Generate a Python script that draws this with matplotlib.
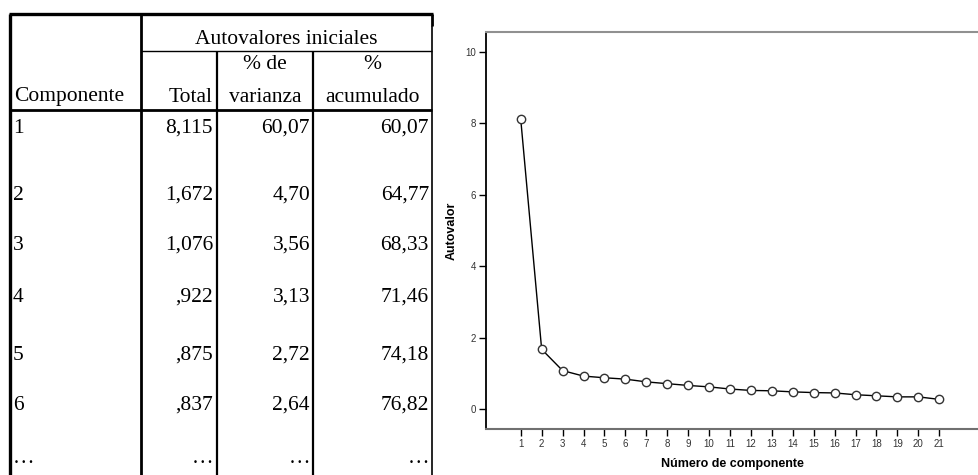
import matplotlib
matplotlib.use("Agg")
import matplotlib.pyplot as plt
from matplotlib.lines import Line2D

# Eigenvalues for every component (first six also listed in the table)
componentes = list(range(1, 22))
autovalores = [8.115, 1.672, 1.076, 0.922, 0.875, 0.837, 0.76, 0.71, 0.66,
               0.62, 0.56, 0.52, 0.51, 0.48, 0.46, 0.45, 0.40, 0.37, 0.34,
               0.34, 0.27]
pct_varianza = [60.07, 4.70, 3.56, 3.13, 2.72, 2.64]
pct_acumulado = [60.07, 64.77, 68.33, 71.46, 74.18, 76.82]
filas_tabla = 6

y_ticks = [0, 2, 4, 6, 8, 10]


def fmt_total(v):
    s = f"{v:.3f}".replace(".", ",")
    return s[1:] if s.startswith("0") else s


def fmt_pct(v):
    return f"{v:.2f}".replace(".", ",")


W, H = 979, 475
fig = plt.figure(figsize=(W / 100, H / 100), dpi=100)

# ---------------- table (pixel-space overlay) ----------------
tab = fig.add_axes([0, 0, 1, 1])
tab.set_xlim(0, W)
tab.set_ylim(H, 0)
tab.axis("off")

serif = "Liberation Serif"
fs = 15.5


def seg(x0, y0, x1, y1, lw):
    tab.add_line(Line2D([x0, x1], [y0, y1], color="black", lw=lw,
                        solid_capstyle="butt"))


def txt(x, y, s, ha):
    tab.text(x, y, s, family=serif, fontsize=fs, ha=ha, va="baseline")


x_left, x_c1, x_c2, x_c3, x_right = 10, 141.5, 217, 313.5, 432
y_top, y_sub, y_head, y_bot = 14, 51, 110, 476

seg(x_left - 1.2, y_top, x_right + 1, y_top, 2.4)     # top border
seg(x_left, y_top, x_left, y_bot, 2.4)                # left border
seg(x_c1, y_top, x_c1, y_bot, 2.0)                    # after "Componente"
seg(x_c2, y_sub, x_c2, y_bot, 1.6)
seg(x_c3, y_sub, x_c3, y_bot, 1.6)
seg(x_right, y_top, x_right, y_top + 12, 2.0)         # right border (top)
seg(x_right, y_top + 12, x_right, y_bot, 1.2)         # right border
seg(x_c1, y_sub, x_right, y_sub, 1.0)                 # under group title
seg(x_left, y_head, x_right, y_head, 2.0)             # under header

mid2 = (x_c2 + x_c3) / 2
mid3 = (x_c3 + x_right) / 2
txt((x_c1 + x_right) / 2, 44, "Autovalores iniciales", "center")
txt(14, 101.5, "Componente", "left")
txt(213, 101.5, "Total", "right")
txt(mid2, 69, "% de", "center")
txt(mid2, 101.5, "varianza", "center")
txt(mid3, 69, "%", "center")
txt(mid3, 101.5, "acumulado", "center")

row_base = [133, 200, 250, 301.5, 360, 410, 463]
for i in range(filas_tabla):
    y = row_base[i]
    txt(13, y, str(componentes[i]), "left")
    txt(213, y, fmt_total(autovalores[i]), "right")
    txt(310, y, fmt_pct(pct_varianza[i]), "right")
    txt(429, y, fmt_pct(pct_acumulado[i]), "right")
y = row_base[-1]
for x, ha in [(13, "left"), (213, "right"), (310, "right"), (429, "right")]:
    txt(x, y, "\u2026", ha)

# ---------------- scree plot ----------------
ax_l, ax_r, ax_t, ax_b = 486, 979, 32, 429
ax = fig.add_axes([ax_l / W, (H - ax_b) / H, (ax_r - ax_l) / W,
                   (ax_b - ax_t) / H])
ax.plot(componentes, autovalores, color="black", lw=1.0, marker="o",
        markersize=6, markerfacecolor="white", markeredgecolor="#333333",
        markeredgewidth=1.0, zorder=3)

ax.set_xlim(-0.66, 22.9)
ax.set_ylim(-0.56, 10.56)
ax.set_xticks(componentes)
ax.set_yticks(y_ticks)

sans = "Liberation Sans"
ax.tick_params(axis="both", direction="out", length=5, width=1.0,
               color="black", labelsize=7, labelcolor="#333333", pad=2)
for lab in ax.get_xticklabels() + ax.get_yticklabels():
    lab.set_family(sans)

ax.spines["right"].set_visible(False)
ax.spines["left"].set_color("black")
ax.spines["left"].set_linewidth(1.3)
ax.spines["bottom"].set_color("#707070")
ax.spines["bottom"].set_linewidth(1.5)
ax.spines["top"].set_color("#909090")
ax.spines["top"].set_linewidth(1.5)

ax.set_xlabel("Número de componente", family=sans, fontsize=9,
              fontweight="bold", labelpad=7)
ax.set_ylabel("Autovalor", family=sans, fontsize=9, fontweight="bold",
              labelpad=6)

fig.savefig("out.png", dpi=100)
